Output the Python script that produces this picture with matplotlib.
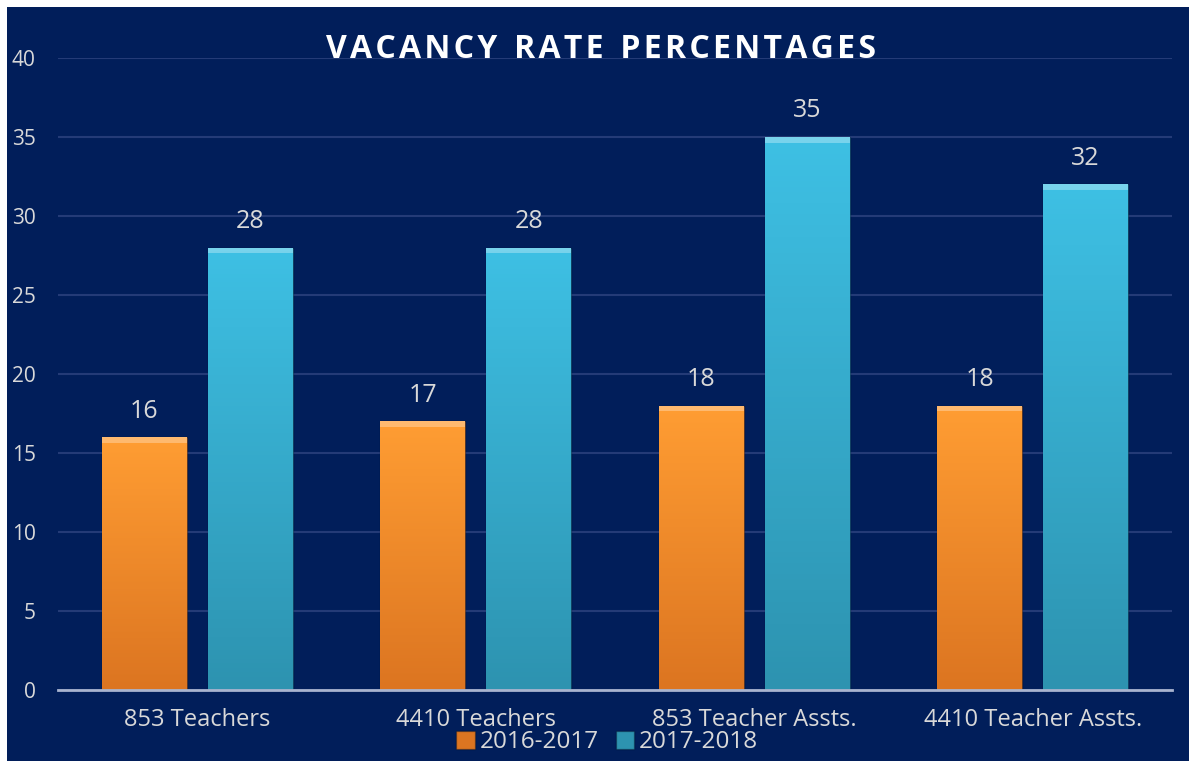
import numpy as np
import matplotlib.pyplot as plt
from matplotlib.patches import Rectangle
from matplotlib.colors import LinearSegmentedColormap

categories = ['853 Teachers', '4410 Teachers', '853 Teacher Assts.', '4410 Teacher Assts.']
rate_2016 = [16, 17, 18, 18]
rate_2017 = [28, 28, 35, 32]
series_names = ['2016-2017', '2017-2018']

navy = '#011e5a'
txt = '#d9d9d9'
orange_top, orange_bot = '#ff9d33', '#dc7521'
blue_top, blue_bot = '#3ec0e4', '#2d93b0'

fig = plt.figure(figsize=(11.89, 7.61), dpi=100, facecolor=navy)
# thin white border at top and left
fig.patches.append(Rectangle((0, 1 - 7 / 761), 1, 7 / 761, transform=fig.transFigure,
                             facecolor='white', edgecolor='none'))
fig.patches.append(Rectangle((0, 0), 7 / 1189, 1, transform=fig.transFigure,
                             facecolor='white', edgecolor='none'))

ax = fig.add_axes([58 / 1189, 71 / 761, (1172 - 58) / 1189, (690 - 58) / 761])
ax.set_facecolor('none')
ax.set_yticks(range(0, 41, 5))
ax.grid(axis='y', color='#243b77', linewidth=1.5)
ax.set_axisbelow(True)
for s in ['top', 'right', 'left']:
    ax.spines[s].set_visible(False)
ax.spines['bottom'].set_color('#a9b4cf')
ax.spines['bottom'].set_linewidth(2)
ax.tick_params(axis='y', length=0, labelsize=15, labelcolor=txt, pad=16)
ax.tick_params(axis='x', length=0, labelsize=17, labelcolor=txt, pad=13)
x = np.arange(len(categories))
ax.set_xticks(x)
ax.set_xticklabels(categories)
for lab in ax.get_yticklabels() + ax.get_xticklabels():
    lab.set_family('Open Sans')

w = 0.305
off = 0.19


def grad_bars(xs, vals, top, bot, label):
    bars = ax.bar(xs, vals, w, color=bot, edgecolor='#00000040', linewidth=1,
                  label=label, zorder=2)
    cmap = LinearSegmentedColormap.from_list('g', [bot, top])
    for b in bars:
        x0, y0 = b.get_x(), b.get_y()
        bw, bh = b.get_width(), b.get_height()
        im = ax.imshow(np.linspace(0, 1, 100).reshape(-1, 1), cmap=cmap,
                       extent=(x0, x0 + bw, y0, y0 + bh), origin='lower',
                       aspect='auto', zorder=2.5)
        im.set_clip_path(b)
        # bevel highlight at top
        ax.add_patch(Rectangle((x0, y0 + bh - 0.35), bw, 0.35,
                               facecolor='white', alpha=0.3, edgecolor='none',
                               zorder=3))
        ax.text(x0 + bw / 2, y0 + bh + 1.65, f'{int(bh)}', ha='center',
                va='center', color=txt, fontsize=18, family='Open Sans', zorder=4)
    return bars


grad_bars(x - off, rate_2016, orange_top, orange_bot, series_names[0])
grad_bars(x + off, rate_2017, blue_top, blue_bot, series_names[1])
ax.set_xlim(-0.5, 3.5)
ax.set_ylim(0, 40)

title = 'VACANCY RATE PERCENTAGES'
fig.text(601 / 1189, 1 - 50 / 761, '\u200a'.join(title).replace('\u200a \u200a', '  '),
         ha='center', va='center', color='white', fontsize=23, fontweight='bold',
         family='Open Sans')

leg = ax.legend(loc='center', bbox_to_anchor=(0.493, -0.083), ncol=2, frameon=False,
                handlelength=0.75, handleheight=0.75, handletextpad=0.2,
                columnspacing=0.7, borderpad=0, labelcolor=txt,
                prop={'family': 'Open Sans', 'size': 17.5})

plt.savefig('out.png', dpi=100, facecolor=navy)
